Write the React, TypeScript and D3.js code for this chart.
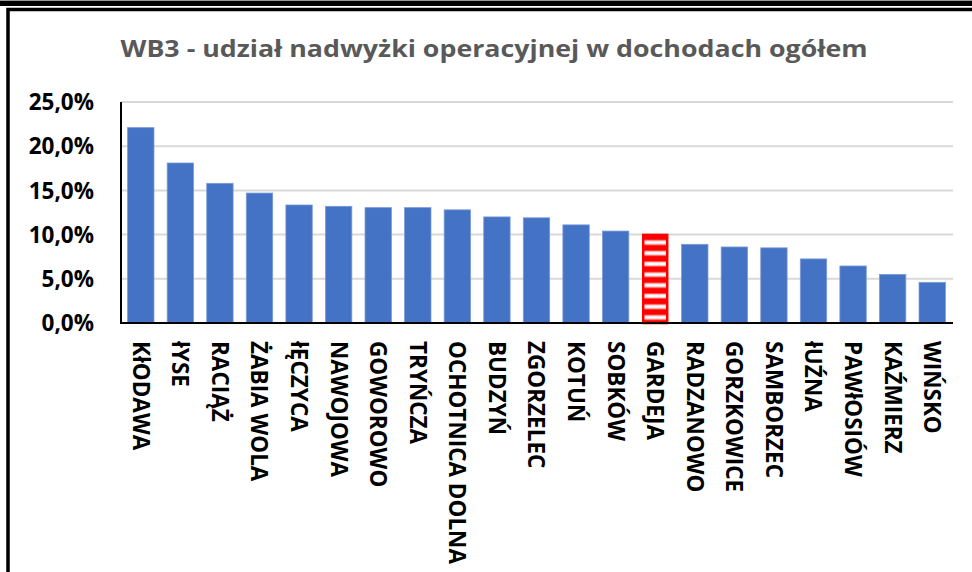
import React from 'react';
import * as d3 from 'd3';

const gminy = [
  'KłODAWA', 'łYSE', 'RACIĄŻ', 'ŻABIA WOLA', 'łĘCZYCA', 'NAWOJOWA', 'GOWOROWO',
  'TRYŃCZA', 'OCHOTNICA DOLNA', 'BUDZYŃ', 'ZGORZELEC', 'KOTUŃ', 'SOBKÓW', 'GARDEJA',
  'RADZANOWO', 'GORZKOWICE', 'SAMBORZEC', 'łUŹNA', 'PAWłOSIÓW', 'KAŹMIERZ', 'WIŃSKO',
];
const udzial = [
  22.1, 18.1, 15.8, 14.7, 13.35, 13.2, 13.05,
  13.05, 12.8, 12.0, 11.9, 11.1, 10.4, 10.1,
  8.9, 8.6, 8.5, 7.25, 6.45, 5.5, 4.6,
];
const highlighted = 'GARDEJA';
const yTicks = [0, 5, 10, 15, 20, 25];

const W = 972;
const H = 572;
const plot = { left: 121, right: 952, top: 102, bottom: 323 };
const font = '"Open Sans", Lato, sans-serif';

export default function App() {
  const x = d3.scaleBand<string>()
    .domain(gminy)
    .range([plot.left, plot.right])
    .paddingInner(1 / 3)
    .paddingOuter(1 / 6);
  const y = d3.scaleLinear().domain([0, 25]).range([plot.bottom, plot.top]);
  const fmt = (v: number) => d3.format('.1f')(v).replace('.', ',') + '%';

  const gIdx = gminy.indexOf(highlighted);
  const gTop = y(udzial[gIdx]);

  return (
    <svg width={W} height={H} style={{ position: 'fixed', left: 0, top: 0, background: '#fff' }}>
      <defs>
        <pattern id="stripes" patternUnits="userSpaceOnUse" width={40} height={10.7} y={gTop + 2}>
          <rect x={0} y={0} width={40} height={10.7} fill="#FF0000" />
          <rect x={0} y={5} width={40} height={3.6} fill="#FFFFFF" />
          <rect x={0} y={4.3} width={40} height={0.7} fill="#FF9999" />
          <rect x={0} y={8.6} width={40} height={0.7} fill="#FF9999" />
        </pattern>
      </defs>
      <rect x={0} y={0} width={W} height={H} fill="#fff" />
      {/* outer frame */}
      <rect x={0} y={0} width={W} height={6} fill="#000" />
      <rect x={0} y={0} width={W} height={1} fill="#9a9a9a" />
      <path d={`M${W},9.5 H8 V${H}`} fill="none" stroke="#000" strokeWidth={3.5} />

      <text x={494} y={57} textAnchor="middle" fontFamily={font} fontWeight={700}
        fontSize={24} fill="#595959" textLength={747} lengthAdjust="spacingAndGlyphs">
        WB3 - udział nadwyżki operacyjnej w dochodach ogółem
      </text>

      {/* gridlines */}
      {yTicks.map(t => (
        <line key={t} x1={plot.left} x2={plot.right + 1} y1={y(t)} y2={y(t)}
          stroke="#D9D9D9" strokeWidth={2} />
      ))}
      {yTicks.map(t => (
        <text key={'l' + t} x={94} y={y(t)} dy="0.36em" textAnchor="end" fontFamily={font}
          fontWeight={700} fontSize={22.5} fill="#000">
          {fmt(t)}
        </text>
      ))}

      {/* bars */}
      {gminy.map((g, i) => {
        const bx = x(g) as number;
        const by = y(udzial[i]);
        const bh = plot.bottom - by;
        if (g === highlighted) {
          return (
            <rect key={g} x={bx + 1.2} y={by + 1.2} width={x.bandwidth() - 2.4} height={bh - 1.2}
              fill="url(#stripes)" stroke="#FF0000" strokeWidth={2.5} />
          );
        }
        return (
          <rect key={g} x={bx} y={by} width={x.bandwidth()} height={bh}
            fill="#4472C4" stroke="#7A9BD8" strokeWidth={0.8} />
        );
      })}

      {/* axes */}
      <line x1={plot.left} x2={plot.left} y1={plot.top} y2={plot.bottom + 1} stroke="#000" strokeWidth={2} />
      <line x1={plot.left} x2={plot.right + 1} y1={plot.bottom} y2={plot.bottom} stroke="#000" strokeWidth={2} />

      {gminy.map(g => {
        const cx = (x(g) as number) + x.bandwidth() / 2;
        return (
          <text key={'x' + g} transform={`translate(${cx},341) rotate(90)`} dy="0.36em"
            textAnchor="start" fontFamily={font} fontWeight={700} fontSize={22.5} fill="#000">
            {g}
          </text>
        );
      })}
    </svg>
  );
}
